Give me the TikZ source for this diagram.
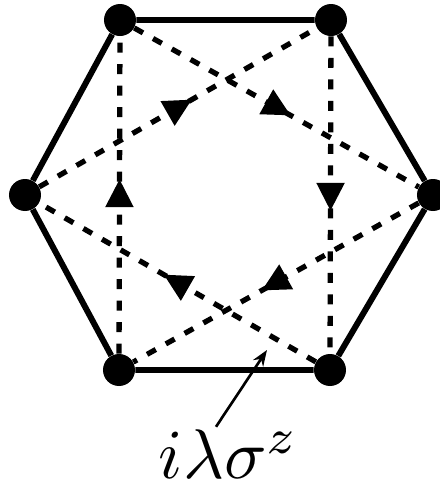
\documentclass[tikz,border=0pt]{standalone}
\usetikzlibrary{arrows.meta,decorations.markings}
\begin{document}
\begin{tikzpicture}[
  site/.style={circle,fill=black,inner sep=0pt,minimum size=0.64cm},
  bond/.style={line width=3.4pt},
  hop/.style={line width=3pt,dash pattern=on 0.2cm off 0.23cm,
    postaction={decorate,solid},
    decoration={markings,mark=at position 0.55 with {\arrow{Triangle[length=0.56cm,width=0.54cm]}}}}]
  \useasboundingbox (0,0) rectangle (8.8,9.8);
  % sites
  \node[site] (tl) at (2.4,9.4) {};
  \node[site] (tr) at (6.62,9.4) {};
  \node[site] (r) at (8.66,5.9) {};
  \node[site] (br) at (6.6,2.4) {};
  \node[site] (bl) at (2.38,2.4) {};
  \node[site] (l) at (0.5,5.9) {};
  % hexagon
  \draw[bond] (tl) -- (tr) -- (r) -- (br) -- (bl) -- (l) -- (tl);
  % next-nearest neighbour hoppings
  \draw[hop] (l) -- (tr);
  \draw[hop] (tl) -- (r);
  \draw[hop] (tr) -- (br);
  \draw[hop] (r) -- (bl);
  \draw[hop] (br) -- (l);
  \draw[hop] (bl) -- (tl);
  % label
  \node[scale=4,inner sep=0pt,anchor=base] (lbl) at (4.58,0.22) {$i\lambda\sigma^z$};
  \coordinate (hit) at (5.34,2.8);
  \draw[line width=1.5pt,-{Stealth[length=0.32cm,width=0.24cm]}] ([xshift=-0.26cm,yshift=0.04cm]lbl.north) -- (hit);
\end{tikzpicture}
\end{document}
